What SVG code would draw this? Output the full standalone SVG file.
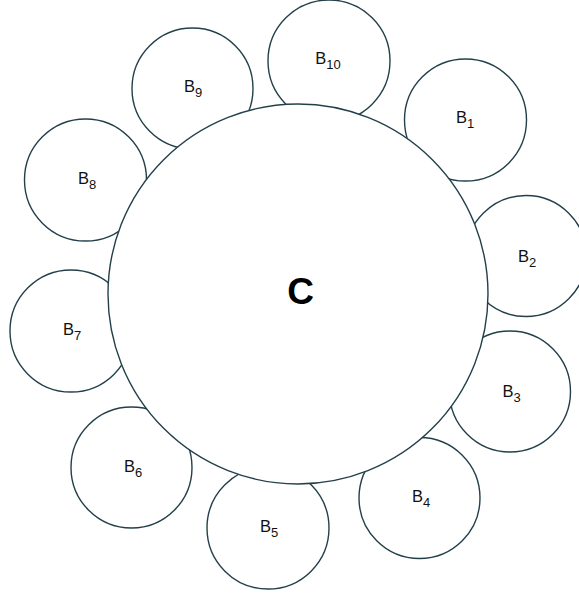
<svg xmlns="http://www.w3.org/2000/svg" width="579" height="598" viewBox="0 0 579 598">
<style>
.b{fill:#fff;stroke:#23404a;stroke-width:1.4}
.l{font-family:"Liberation Sans",Arial,sans-serif;font-size:16.5px;fill:#111;text-anchor:middle}
.s{font-size:13px}
.c{font-family:"Liberation Sans",Arial,sans-serif;font-size:37px;font-weight:bold;fill:#000;text-anchor:middle}
</style>
<rect width="579" height="598" fill="#fff"/>
<g id="B1"><circle class="b" cx="465.5" cy="120" r="61"/><text class="l" x="465" y="123">B<tspan class="s" dy="4.5">1</tspan></text></g>
<g id="B2"><circle class="b" cx="526" cy="256" r="60.5"/><text class="l" x="527" y="262">B<tspan class="s" dy="4.5">2</tspan></text></g>
<g id="B3"><circle class="b" cx="510" cy="391.5" r="60.5"/><text class="l" x="511.5" y="397">B<tspan class="s" dy="4.5">3</tspan></text></g>
<g id="B4"><circle class="b" cx="419.5" cy="498" r="60.5"/><text class="l" x="421" y="502">B<tspan class="s" dy="4.5">4</tspan></text></g>
<g id="B5"><circle class="b" cx="268" cy="528" r="61"/><text class="l" x="269" y="532">B<tspan class="s" dy="4.5">5</tspan></text></g>
<g id="B6"><circle class="b" cx="131.5" cy="467.5" r="60.5"/><text class="l" x="133" y="472">B<tspan class="s" dy="4.5">6</tspan></text></g>
<g id="B7"><circle class="b" cx="71" cy="331" r="61"/><text class="l" x="72" y="335">B<tspan class="s" dy="4.5">7</tspan></text></g>
<g id="B8"><circle class="b" cx="85.5" cy="180" r="61"/><text class="l" x="87" y="184">B<tspan class="s" dy="4.5">8</tspan></text></g>
<g id="B9"><circle class="b" cx="192.5" cy="88.5" r="60.5"/><text class="l" x="193" y="92">B<tspan class="s" dy="4.5">9</tspan></text></g>
<g id="B10"><circle class="b" cx="329" cy="61" r="61"/><text class="l" x="328" y="64">B<tspan class="s" dy="4.5">10</tspan></text></g>
<g id="C"><circle class="b" cx="298" cy="294" r="190"/><text class="c" x="300.5" y="304">C</text></g>
<g id="connectors"/>
</svg>
